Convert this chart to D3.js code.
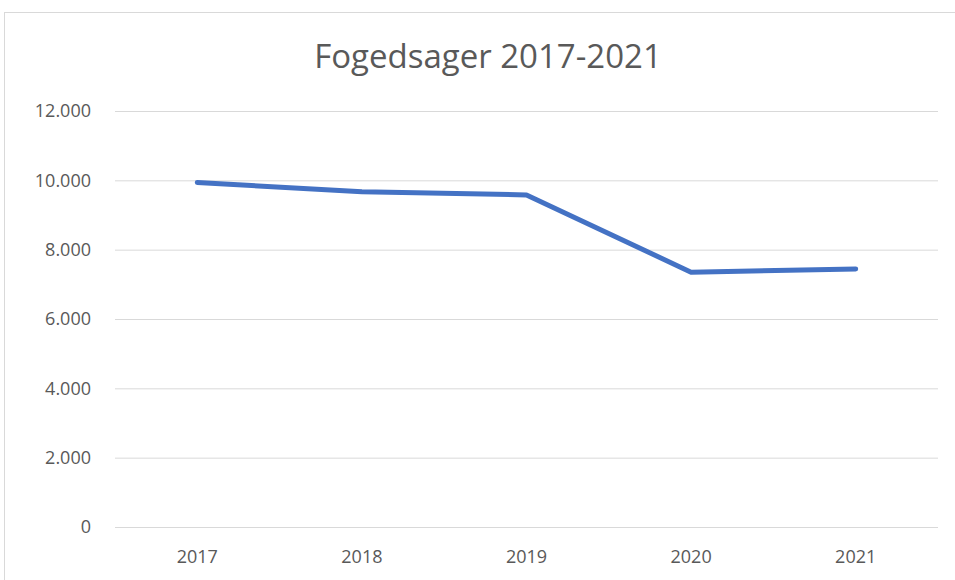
<!DOCTYPE html>
<html>
<head>
<meta charset="utf-8">
<script src="https://cdn.jsdelivr.net/npm/d3@7"></script>
<style>
  body { margin: 0; background: #fff; }
  svg { display: block; font-family: "Open Sans", sans-serif; }
</style>
</head>
<body>
<svg id="chart" width="955" height="580"></svg>
<script>
var years = ["2017", "2018", "2019", "2020", "2021"];
var cases = [9940, 9670, 9580, 7350, 7440];
var yTicks = [0, 2000, 4000, 6000, 8000, 10000, 12000];

var svg = d3.select("#chart");
var margin = {left: 115, right: 17, top: 111, bottom: 53};
var width = 955 - margin.left - margin.right;
var height = 580 - margin.top - margin.bottom;

// chart frame
svg.append("rect")
  .attr("x", 4.5).attr("y", 12.5)
  .attr("width", 960).attr("height", 600)
  .attr("fill", "none").attr("stroke", "#d9d9d9");

svg.append("text")
  .attr("x", 488).attr("y", 68)
  .attr("text-anchor", "middle")
  .attr("fill", "#595959")
  .style("font-size", "33px")
  .text("Fogedsager 2017-2021");

var g = svg.append("g").attr("transform", "translate(" + margin.left + "," + margin.top + ")");

var x = d3.scaleBand().domain(years).range([0, width]);
var y = d3.scaleLinear().domain([0, 12000]).range([height, 0]);

var fmt = function(v){ return d3.format(",")(v).replace(/,/g, "."); };

var yAxis = g.append("g")
  .call(d3.axisLeft(y).tickValues(yTicks).tickSize(-width).tickFormat(fmt))
  .attr("font-family", null).attr("font-size", null);
yAxis.select(".domain").remove();
yAxis.selectAll("line").attr("stroke", "#d9d9d9");
yAxis.selectAll("text")
  .attr("x", -24).attr("fill", "#595959")
  .style("font-size", "18px");

var xAxis = g.append("g")
  .attr("transform", "translate(0," + height + ")")
  .call(d3.axisBottom(x).tickSize(0))
  .attr("font-family", null).attr("font-size", null);
xAxis.select(".domain").remove();
xAxis.selectAll("text")
  .attr("dy", "1.85em").attr("fill", "#595959")
  .style("font-size", "18px");

var line = d3.line()
  .x(function(d, i){ return x(years[i]) + x.bandwidth()/2; })
  .y(function(d){ return y(d); });

g.append("path")
  .datum(cases)
  .attr("d", line)
  .attr("fill", "none")
  .attr("stroke", "#4472c4")
  .attr("stroke-width", 5)
  .attr("stroke-linecap", "round")
  .attr("stroke-linejoin", "round");
</script>
</body>
</html>
